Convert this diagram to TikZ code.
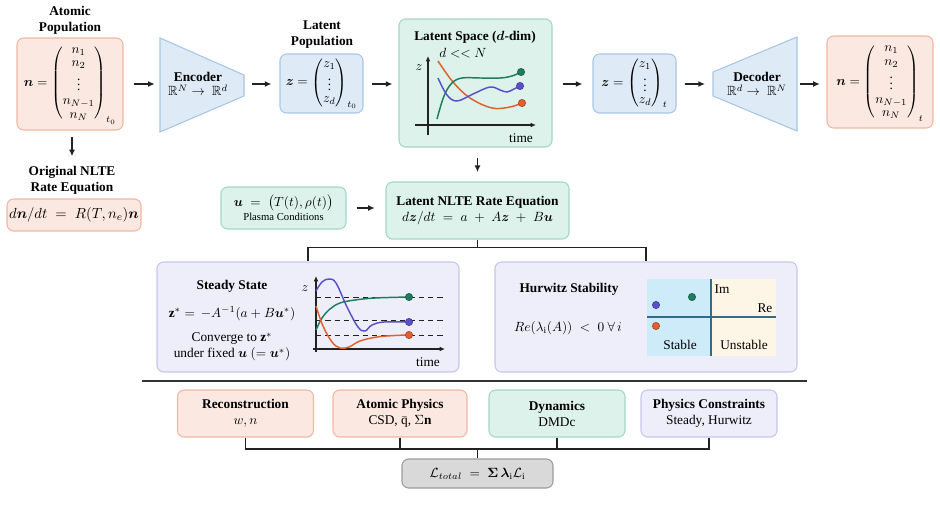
\documentclass[tikz,border=0pt]{standalone}
\usepackage{amsmath,amssymb}
\usepackage{bm}
\usepackage{fontspec}
\setmainfont{Liberation Serif}
\usetikzlibrary{arrows.meta}
\definecolor{salF}{HTML}{FBE8E1}
\definecolor{salD}{HTML}{F0B8A3}
\definecolor{bluF}{HTML}{DEEBF7}
\definecolor{bluD}{HTML}{A7C6E6}
\definecolor{grnF}{HTML}{DCF2EA}
\definecolor{grnD}{HTML}{A2D7C2}
\definecolor{lavF}{HTML}{EEEEFB}
\definecolor{lavD}{HTML}{C6C6EC}
\definecolor{gryF}{HTML}{D9D9D9}
\definecolor{gryD}{HTML}{9C9C9C}
\definecolor{cG}{HTML}{1E7D5C}
\definecolor{cB}{HTML}{5B50CC}
\definecolor{cO}{HTML}{E0602E}
\definecolor{stabF}{HTML}{CDEBF8}
\definecolor{unstF}{HTML}{FDF6E6}
\definecolor{axC}{HTML}{2F6C88}
\definecolor{lnC}{HTML}{222222}
\begin{document}
\begin{tikzpicture}[x=0.75pt,y=-0.75pt,
  sz/.style 2 args={minimum width=#1*0.75pt,minimum height=#2*0.75pt},
  bx/.style={draw, rounded corners=5pt, line width=0.8pt, inner sep=0pt, align=center},
  sal/.style={bx, fill=salF, draw=salD},
  blu/.style={bx, fill=bluF, draw=bluD},
  grn/.style={bx, fill=grnF, draw=grnD},
  lav/.style={bx, fill=lavF, draw=lavD},
  gry/.style={bx, fill=gryF, draw=gryD},
  ttl/.style={font=\bfseries, align=center, inner sep=0pt},
  lbl/.style={inner sep=0pt, align=center},
  arr/.style={-{Latex[length=5pt,width=4.5pt]}, line width=1pt, draw=lnC},
  ax/.style={-{Latex[length=4pt,width=3.5pt]}, line width=1pt, draw=lnC},
  ln/.style={line width=1pt, draw=lnC},
  crv/.style={line width=1.1pt},
  dot/.style={circle, inner sep=0pt, minimum size=5.5pt, draw=#1!70!black, fill=#1, line width=0.4pt},
  trap/.style={fill=bluF, draw=bluD, line width=0.8pt},
  dsh/.style={line width=0.7pt, dash pattern=on 4pt off 3pt, draw=lnC}
]
\useasboundingbox (0,0) rectangle (940,521);

% ---------- top row ----------
\node[ttl] (tAP) at (70,20) {Atomic\\Population};
\node[sal, sz={106}{92}] (nb) at (70,84) {\renewcommand{\arraystretch}{0.85}$\bm{n} = \begin{pmatrix} n_1\\ n_2\\ \vdots\\ n_{N-1}\\ n_N\end{pmatrix}_{t_0}$};

\draw[trap] (160,38) -- (244,75) -- (244,96) -- (160,132) -- cycle;
\coordinate (encL) at (160,84);
\coordinate (encR) at (244,84);
\node[lbl] (enc) at (198,84) {\textbf{Encoder}\\[-1pt] $\mathbb{R}^N \to\ \mathbb{R}^d$};

\node[ttl] (tLP) at (322,35) {Latent\\Population};
\node[blu, sz={83}{59}] (zb) at (321.5,83.5) {\renewcommand{\arraystretch}{0.75}$\bm{z} = \begin{pmatrix} z_1\\ \vdots\\ z_d\end{pmatrix}_{t_0}$};

\node[grn, sz={153}{128}] (ls) at (475.5,83) {};
\node[ttl] (lsT) at (475,37) {Latent Space ($\bm{d}$-dim)};
\node[lbl] (lsN) at (463,53) {$d << N$};

\node[blu, sz={83}{59}] (zt) at (634.5,83.5) {\renewcommand{\arraystretch}{0.75}$\bm{z} = \begin{pmatrix} z_1\\ \vdots\\ z_d\end{pmatrix}_{t}$};

\draw[trap] (713,72) -- (797,37) -- (797,131) -- (713,96) -- cycle;
\coordinate (decL) at (713,84);
\coordinate (decR) at (797,84);
\node[lbl] (dec) at (757,84) {\textbf{Decoder}\\[-1pt] $\mathbb{R}^d \to\ \mathbb{R}^N$};

\node[sal, sz={106}{92}] (nt) at (880,82) {\renewcommand{\arraystretch}{0.85}$\bm{n} = \begin{pmatrix} n_1\\ n_2\\ \vdots\\ n_{N-1}\\ n_N\end{pmatrix}_{t}$};

% top arrows
\draw[arr, shorten <=7.5pt, shorten >=4pt] (nb.east |- encL) -- (encL);
\draw[arr, shorten <=6pt, shorten >=6pt] (encR) -- (zb.west |- encR);
\draw[arr, shorten <=6.5pt, shorten >=4.5pt] (zb.east |- encR) -- (ls.west |- encR);
\draw[arr, shorten <=8pt, shorten >=7.5pt] (ls.east |- decL) -- (zt.west |- decL);
\draw[arr, shorten <=6pt, shorten >=6pt] (zt.east |- decL) -- (decL);
\draw[arr, shorten <=2.5pt, shorten >=5pt] (decR) -- (nt.west |- decR);

% latent space plot
\draw[ax] (428,135) -- (428,56);
\draw[ax] (415,125) -- (536,125);
\node[lbl] (lsz) at (419,68) {$z$};
\node[lbl] (lst) at (521,138) {time};
\draw[crv, cO] plot[smooth, tension=0.6] coordinates {(438,61) (453,82) (470,98) (492,108) (510,107) (522,103)};
\draw[crv, cG] plot[smooth, tension=0.6] coordinates {(437,119) (444,96) (452,83) (462,78) (480,78) (500,78) (512,76) (521,72)};
\draw[crv, cB] plot[smooth, tension=0.6] coordinates {(438,78) (447,95) (457,101) (473,94) (490,87) (500,90) (507,92) (514,89) (520,86)};
\node[dot=cG] (lsd1) at (521,72) {};
\node[dot=cB] (lsd2) at (520,86) {};
\node[dot=cO] (lsd3) at (522,103) {};

% ---------- left column ----------
\node[ttl] (tON) at (72,180) {Original NLTE\\Rate Equation};
\draw[arr, shorten <=5pt, shorten >=7pt] (tON.north |- nb.south) -- (tON.north);
\node[sal, sz={134}{32}] (oe) at (74,215) {\fontsize{11}{13}\selectfont $d\bm{n}/dt \;=\; R(T,n_e)\bm{n}$};

% ---------- middle ----------
\node[grn, sz={125}{42}] (ub) at (283.5,208) {$\bm{u} \;=\; \big(T(t),\rho(t)\big)$\\[-1pt]{\fontsize{8}{9}\selectfont Plasma Conditions}};
\node[grn, sz={183}{57}] (lnb) at (477.5,210.5) {\textbf{Latent NLTE Rate Equation}\\ $d\bm{z}/dt \;=\; a \;+\; A\bm{z} \;+\; B\bm{u}$};
\draw[arr, shorten <=7.5pt, shorten >=7pt] (ls.south -| lnb.north) -- (lnb.north);
\draw[arr, shorten <=7.5pt, shorten >=8pt] (ub.east) -- (lnb.west |- ub.east);

% ---------- steady state & Hurwitz ----------
\node[lav, sz={302}{110}] (ss) at (308,317) {};
\node[lav, sz={302}{110}] (hw) at (646,317) {};
\draw[ln] (lnb.south) -- ++(0,8) coordinate (br);
\draw[ln] (br) -| (ss.north);
\draw[ln] (br) -| (hw.north);

\node[ttl] (ssT) at (232,286) {Steady State};
\node[lbl] (ssE) at (232,314) {$\mathbf{z}^* = \,-A^{-1}(a + B\bm{u}^*)$};
\node[lbl] (ssC) at (232,347) {Converge to $\mathbf{z}^*$\\ under fixed $\bm{u}$ $(=\bm{u}^*)$};

\draw[dsh] (316,297) -- (443,297);
\draw[dsh] (316,320) -- (443,320);
\draw[dsh] (316,335) -- (443,335);
\draw[ax] (316,352) -- (316,276);
\draw[ax] (313,349) -- (445,349);
\node[lbl] (ssz) at (305,289) {$z$};
\node[lbl] (sst) at (428,362) {time};
\draw[crv, cB] plot[smooth, tension=0.6] coordinates {(316,291) (322,282) (329,279) (336,283) (347,307) (358,327) (365,331) (372,325) (384,322) (409,322)};
\draw[crv, cG] plot[smooth, tension=0.6] coordinates {(316,330) (322,318) (330,309) (340,303) (355,300) (375,298) (409,297)};
\draw[crv, cO] plot[smooth, tension=0.6] coordinates {(316,306) (323,326) (332,342) (340,348) (349,347) (360,341) (377,337) (395,335.5) (409,335)};
\node[dot=cG] (ssd1) at (409,297) {};
\node[dot=cB] (ssd2) at (409,322) {};
\node[dot=cO] (ssd3) at (409,335) {};

\node[ttl] (hwT) at (569,289) {Hurwitz Stability};
\node[lbl] (hwE) at (568,328) {$Re(\lambda_{\mathrm{i}}(A)) \;<\; 0\ \forall\, i$};
\fill[stabF] (647,279) rectangle (711,356);
\fill[unstF] (711,279) rectangle (776,356);
\draw[axC, line width=1.3pt] (711,279) -- (711,356);
\draw[axC, line width=1.3pt] (647,317) -- (776,317);
\node[lbl] (hIm) at (722,289) {Im};
\node[lbl] (hRe) at (765,308) {Re};
\node[lbl] (hSt) at (680,345) {Stable};
\node[lbl] (hUn) at (744,345) {Unstable};
\node[dot=cB] (hd1) at (656,305) {};
\node[dot=cG] (hd2) at (692,297) {};
\node[dot=cO] (hd3) at (656,326) {};

% ---------- separator ----------
\draw[line width=1.4pt, draw=black!80] (142,381) -- (807,381);

% ---------- bottom ----------
\node[sal, sz={136}{47}] (rec) at (245.5,413.5) {\textbf{Reconstruction}\\ $w, n$};
\node[sal, sz={134}{47}] (atp) at (400,413.5) {\textbf{Atomic Physics}\\ CSD, $\bar{\mathrm{q}}$,\ $\Sigma\mathbf{n}$};
\node[grn, sz={136}{47}] (dyn) at (557,413.5) {\textbf{Dynamics}\\ DMDc};
\node[lav, sz={136}{47}] (phc) at (709,413.5) {\textbf{Physics Constraints}\\ Steady, Hurwitz};
\node[gry, sz={151}{29}] (loss) at (477.5,473.5) {$\mathcal{L}_{total} \;=\; \bm{\Sigma}\,\bm{\lambda}_{\mathrm{i}}\mathcal{L}_{\mathrm{i}}$};
\coordinate (jn) at (477.5,449);
\draw[ln] (rec.south) |- (jn);
\draw[ln] (phc.south) |- (jn);
\draw[ln] (atp.south) -- (atp.south |- jn);
\draw[ln] (dyn.south) -- (dyn.south |- jn);
\draw[ln] (jn) -- (loss.north);
\end{tikzpicture}
\end{document}
